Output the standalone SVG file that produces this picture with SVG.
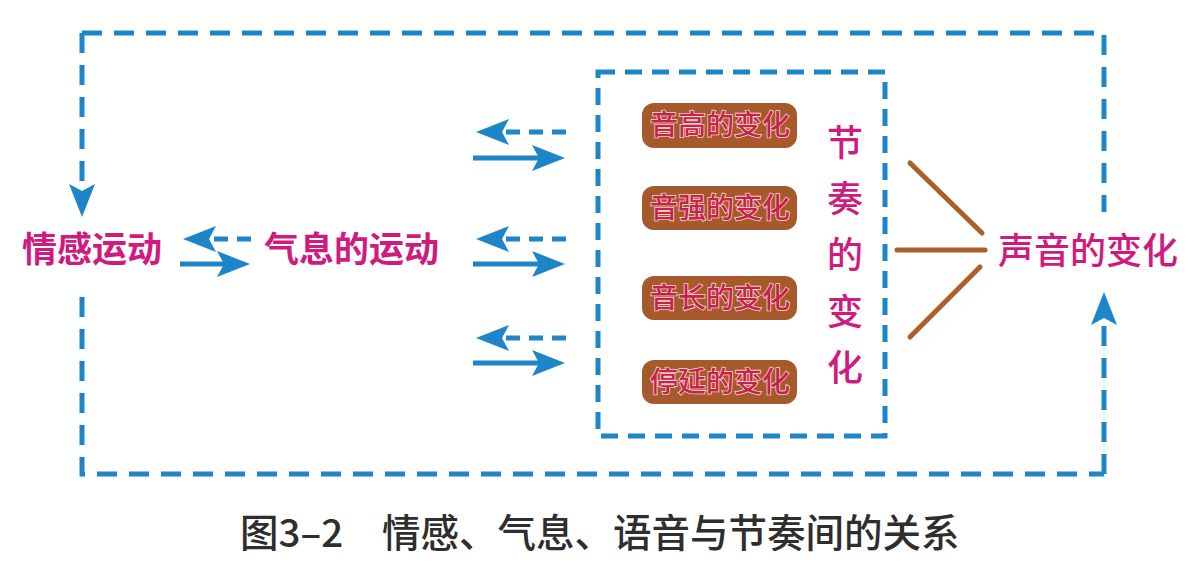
<svg xmlns="http://www.w3.org/2000/svg" width="1194" height="570" viewBox="0 0 1194 570">
<style>
.frame{fill:none;stroke:#1d86c9;stroke-width:5;stroke-dasharray:20 12}
.inner{fill:none;stroke:#1d86c9;stroke-width:5;stroke-dasharray:17 10}
.arr{fill:none;stroke:#1d86c9;stroke-width:5}
.dash{stroke-dasharray:14 9}
.brown{stroke:#a86129;stroke-width:5;stroke-linecap:round}
.pill{fill:#a65a2b}
.pt{font-family:"Noto Sans CJK SC",sans-serif;font-size:28px;fill:#c8204f;stroke:#f6dccb;stroke-width:1.6;paint-order:stroke;text-anchor:middle;font-weight:500}
.mag{font-family:"Noto Sans CJK SC",sans-serif;fill:#d01a7e}
.cap{font-family:"Noto Sans CJK SC",sans-serif;font-size:38.5px;fill:#2e2e2e;font-weight:500}
</style>
<defs>
<marker id="head" markerUnits="userSpaceOnUse" markerWidth="40" markerHeight="30" refX="0" refY="0" orient="auto" overflow="visible">
<path d="M21,0 L-12,-13 L-5,0 L-12,13 Z" fill="#1d86c9"/>
</marker>
</defs>
<g id="connectors">
<path class="frame" d="M82,33 H1104 V212"/>
<path class="frame" d="M82,33 V196" marker-end="url(#head)"/>
<path class="frame" d="M82,297 V474 H1104"/>
<path class="frame" d="M1104,474 V313" marker-end="url(#head)"/>
<path class="arr dash" d="M251,239 H204" marker-end="url(#head)"/>
<path class="arr" d="M180,264 H229" marker-end="url(#head)"/>
<path class="arr dash" d="M566,132 H497" marker-end="url(#head)"/>
<path class="arr" d="M473,158 H544" marker-end="url(#head)"/>
<path class="arr dash" d="M566,239 H497" marker-end="url(#head)"/>
<path class="arr" d="M473,264 H544" marker-end="url(#head)"/>
<path class="arr dash" d="M566,338 H497" marker-end="url(#head)"/>
<path class="arr" d="M473,363 H544" marker-end="url(#head)"/>
<line class="brown" x1="910" y1="163" x2="982" y2="233"/>
<line class="brown" x1="897" y1="250" x2="985" y2="250"/>
<line class="brown" x1="980" y1="267" x2="910" y2="337"/>
</g>
<g id="emotion"><text class="mag" x="22" y="262" font-size="35" font-weight="700">情感运动</text></g>
<g id="breath"><text class="mag" x="264" y="262" font-size="35" font-weight="700">气息的运动</text></g>
<g id="rhythm">
<rect class="inner" x="598" y="72" width="287" height="364"/>
<text class="mag" font-size="36" font-weight="500" text-anchor="middle" x="845" y="156">节</text>
<text class="mag" font-size="36" font-weight="500" text-anchor="middle" x="845" y="212">奏</text>
<text class="mag" font-size="36" font-weight="500" text-anchor="middle" x="845" y="268">的</text>
<text class="mag" font-size="36" font-weight="500" text-anchor="middle" x="845" y="325">变</text>
<text class="mag" font-size="36" font-weight="500" text-anchor="middle" x="845" y="381">化</text>
</g>
<g id="pitch"><rect class="pill" x="642" y="103" width="155" height="45" rx="12"/><text class="pt" x="720" y="135">音高的变化</text></g>
<g id="intensity"><rect class="pill" x="642" y="186" width="155" height="44" rx="12"/><text class="pt" x="720" y="218">音强的变化</text></g>
<g id="length"><rect class="pill" x="642" y="276" width="155" height="44" rx="12"/><text class="pt" x="720" y="308">音长的变化</text></g>
<g id="pause"><rect class="pill" x="642" y="360" width="155" height="44" rx="12"/><text class="pt" x="720" y="392">停延的变化</text></g>
<g id="sound"><text class="mag" x="998" y="264" font-size="36" font-weight="500">声音的变化</text></g>
<g id="caption">
<text class="cap" x="240" y="547">图3–2</text>
<text class="cap" x="382" y="547">情感、气息、语音与节奏间的关系</text>
</g>
</svg>
